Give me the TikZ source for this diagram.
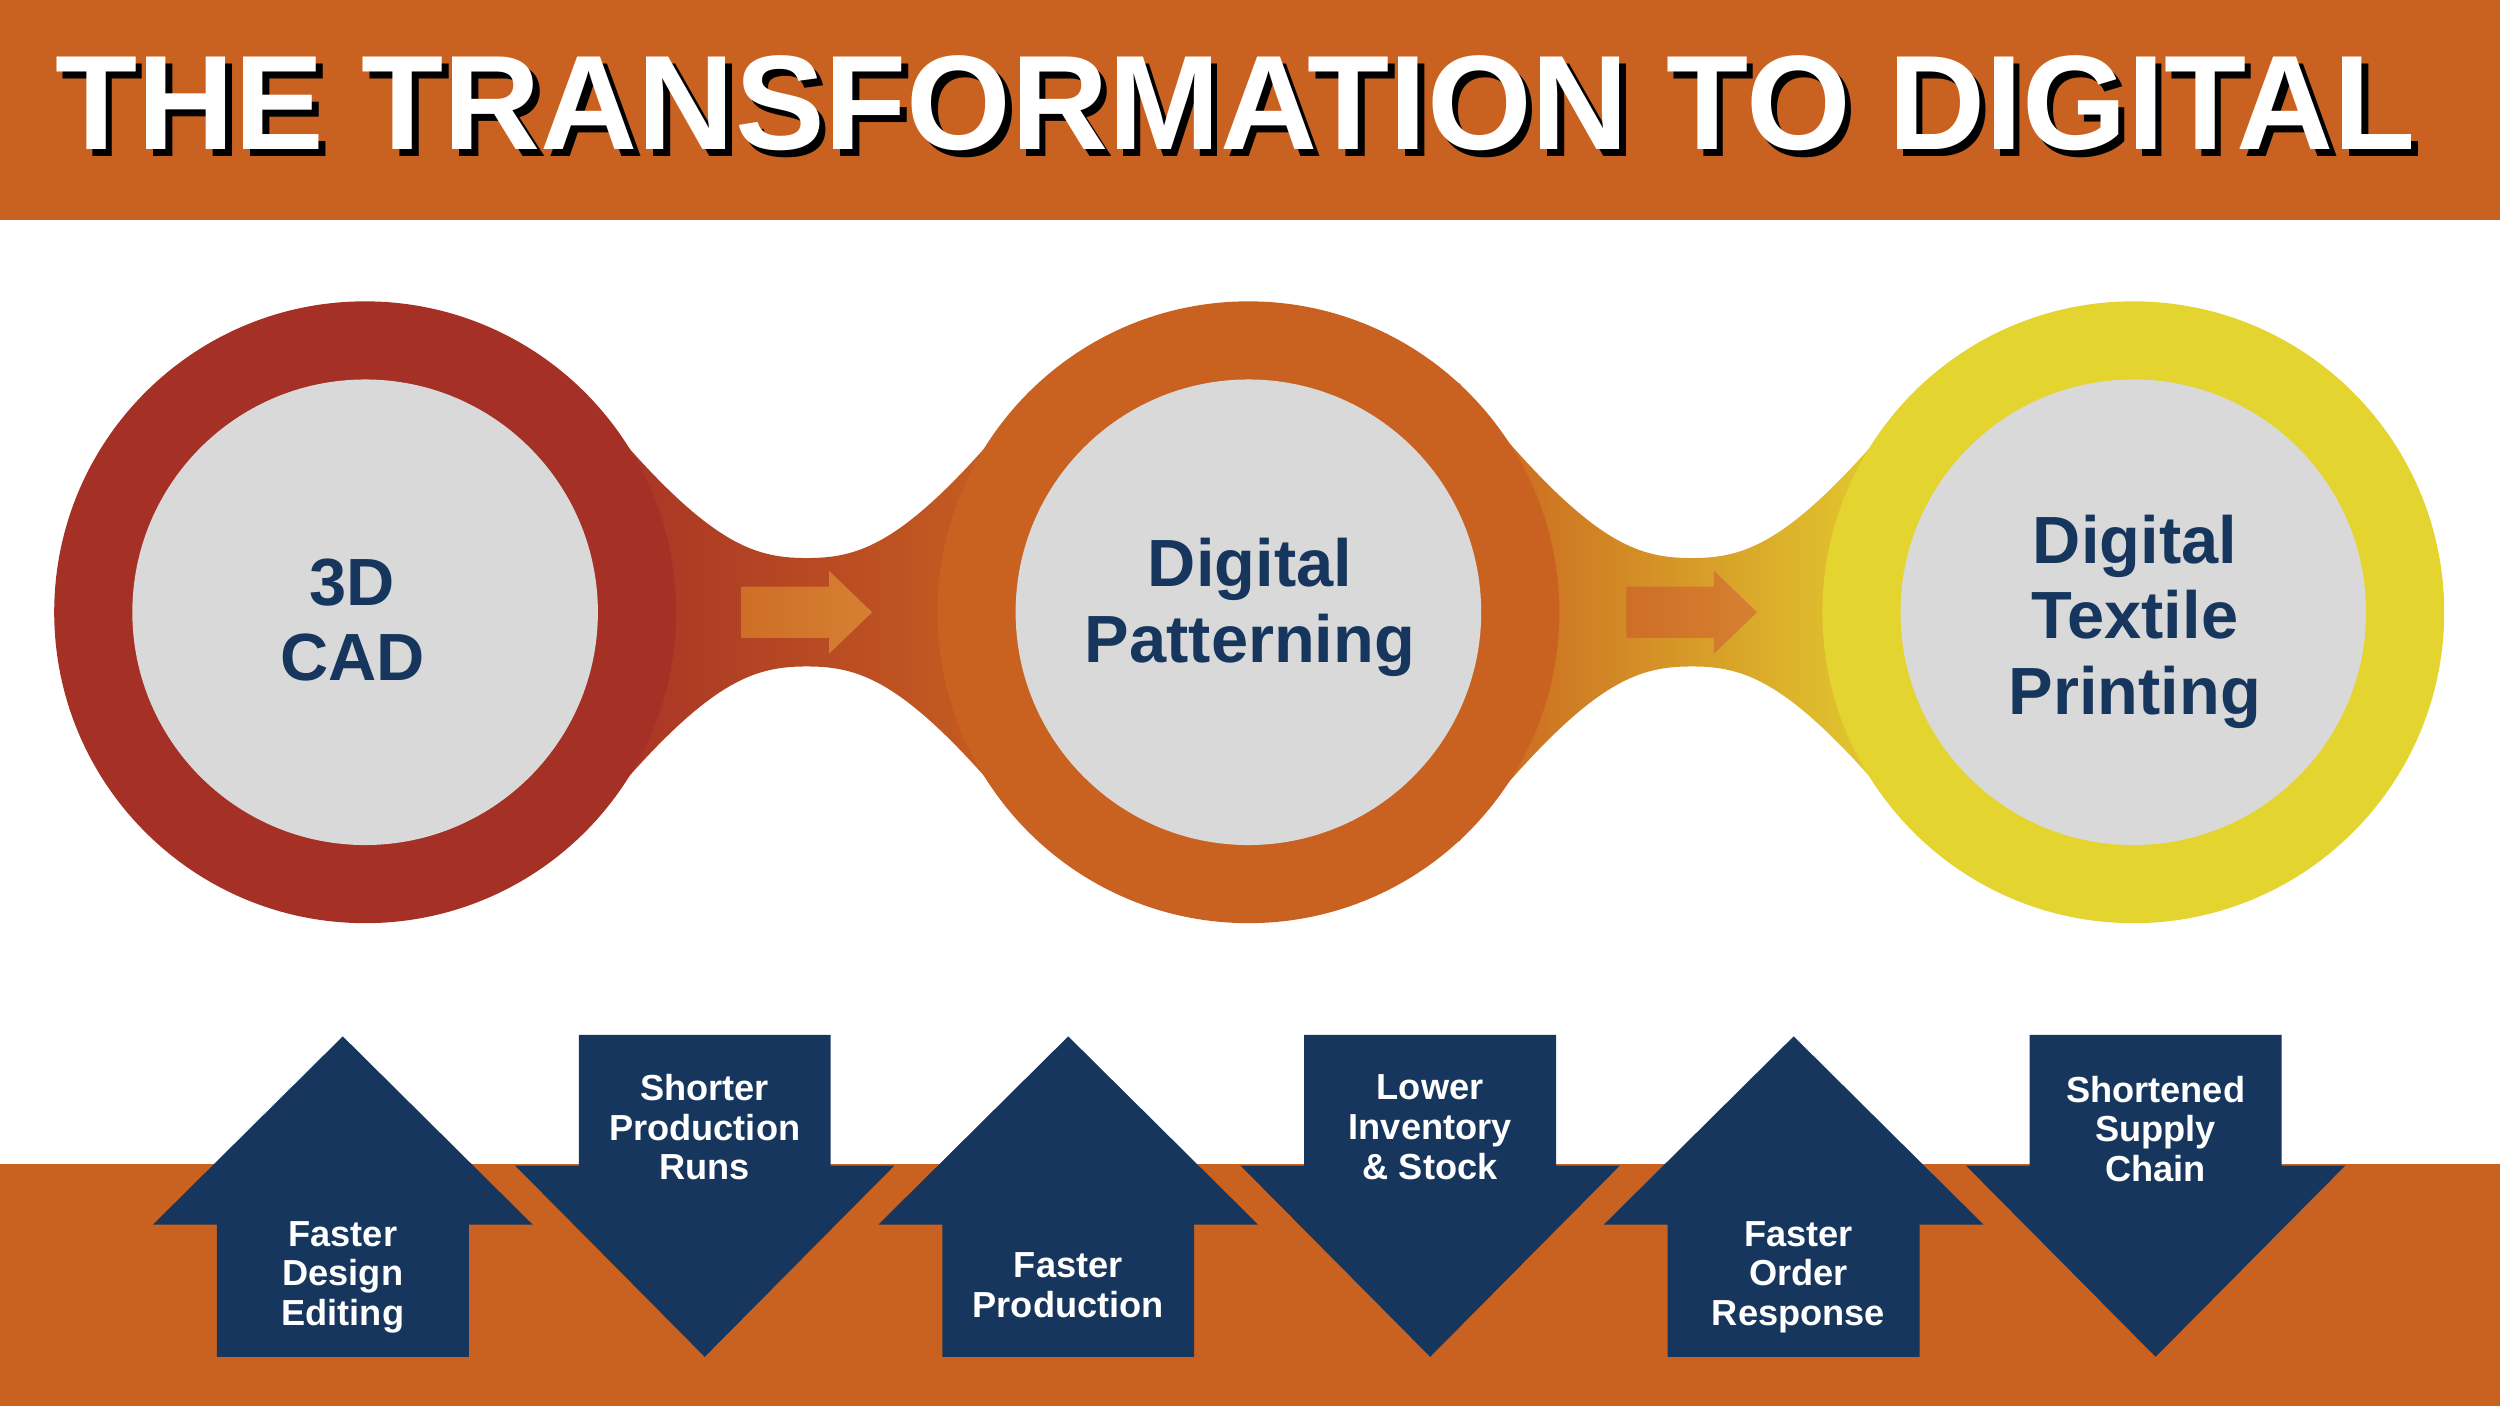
\documentclass[tikz,border=0pt]{standalone}
\usepackage{fontspec}
\setmainfont{Liberation Sans}
\usetikzlibrary{positioning}
\definecolor{bandorange}{RGB}{201,98,32}
\definecolor{ringred}{RGB}{165,48,38}
\definecolor{ringyellow}{RGB}{228,212,48}
\definecolor{navy}{RGB}{23,54,93}
\definecolor{innergray}{RGB}{217,217,217}
\definecolor{pale}{RGB}{214,128,50}
\begin{document}
\begin{tikzpicture}[x=0.015944cm,y=-0.015944cm,
      stage/.style={font=\bfseries\fontsize{19}{21.5}\selectfont, text=navy, align=center},
      gain/.style={font=\bfseries\fontsize{10.3}{11.3}\selectfont, text=white, align=center},
      shape arrow/.style={fill=navy},
      neck/.style={shading=axis, shading angle=90}
      ]
      \useasboundingbox (0,0) rectangle (1568,882);

      % Bands
      \fill[bandorange] (0,0) rectangle (1568,138);
      \fill[bandorange] (0,730) rectangle (1568,882);
      \node[font=\bfseries, text=black] (shadow) at (779,69) {\resizebox{23.6cm}{!}{THE TRANSFORMATION TO DIGITAL}};
      \node[font=\bfseries, text=white] (title) at (775,65) {\resizebox{23.6cm}{!}{THE TRANSFORMATION TO DIGITAL}};

      % Necks
      \foreach \dx/\lc/\rc in {0/ringred/bandorange, 555/bandorange/ringyellow}{
        \begin{scope}[xshift=\dx*0.015944cm]
          \shade[neck, left color=\lc, right color=\rc] (360,240) .. controls (440,340) and (470,350) .. (506,350)
            .. controls (542,350) and (572,340) .. (652,240) -- (652,528)
            .. controls (572,428) and (542,418) .. (506,418)
            .. controls (470,418) and (440,428) .. (360,528) -- cycle;
          \shade[left color=pale!40!bandorange, right color=pale] (465,368) -- (520,368) -- (520,358) -- (547,384)
            -- (520,410) -- (520,400) -- (465,400) -- cycle;
        \end{scope}
      }

      % Rings
      \fill[ringred] (229,384) circle[radius=195];
      \fill[bandorange] (783,384) circle[radius=195];
      \fill[ringyellow] (1338,384) circle[radius=195];
      \foreach \cx in {229,783,1338}
        \fill[innergray] (\cx,384) circle[radius=146];

      \node[stage] (cad) at (221,389) {3D\\CAD};
      \node[stage] (pattern) at (784,381) {Digital\\Patterning};
      \node[stage] (print) at (1339,390) {Digital\\Textile\\Printing};

      % Up and down arrows
      \foreach \ux in {215,670,1125}
        \fill[shape arrow] (\ux,650) -- (\ux+119,768) -- (\ux+79,768) -- (\ux+79,851)
          -- (\ux-79,851) -- (\ux-79,768) -- (\ux-119,768) -- cycle;
      \foreach \dx in {442,897,1352}
        \fill[shape arrow] (\dx,851) -- (\dx+119,731) -- (\dx+79,731) -- (\dx+79,649)
          -- (\dx-79,649) -- (\dx-79,731) -- (\dx-119,731) -- cycle;

      \node[gain] (editing) at (215,801) {Faster\\Design\\Editing};
      \node[gain] (production) at (670,806) {Faster\\Production};
      \node[gain] (response) at (1128,801) {Faster\\Order\\Response};
      \node[gain] (runs) at (442,707) {Shorter\\Production\\Runs};
      \node[gain] (stock) at (897,707) {Lower\\Inventory\\\& Stock};
      \node[gain] (chain) at (1352,708) {Shortened\\Supply\\Chain};

    \end{tikzpicture}
\end{document}
